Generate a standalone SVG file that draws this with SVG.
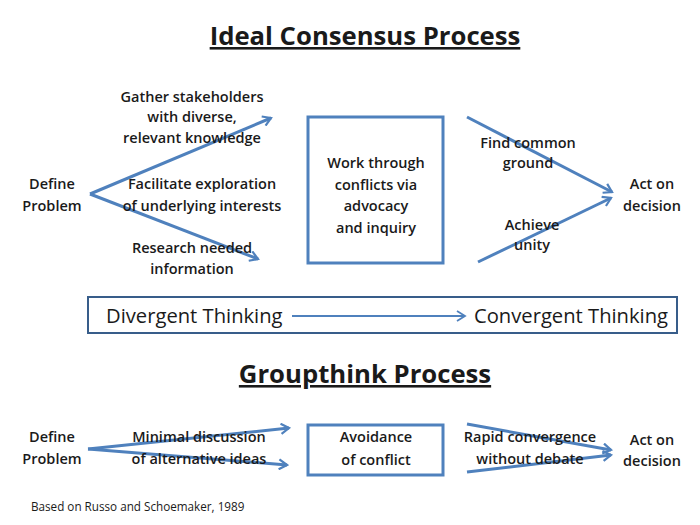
<svg xmlns="http://www.w3.org/2000/svg" width="700" height="525" viewBox="0 0 700 525">
<defs>
<marker id="ah" viewBox="0 0 12 12" refX="10" refY="6" markerWidth="4" markerHeight="4" orient="auto" markerUnits="strokeWidth">
<path d="M2,1 L10,6 L2,11" fill="none" stroke="#4f81bd" stroke-width="2.2" stroke-linejoin="miter"/>
</marker>
<marker id="ah2" viewBox="0 0 12 12" refX="10" refY="6" markerWidth="6" markerHeight="6" orient="auto" markerUnits="strokeWidth">
<path d="M2,1 L10,6 L2,11" fill="none" stroke="#4f81bd" stroke-width="1.8"/>
</marker>
</defs>
<style>
text{font-family:"Open Sans","Liberation Sans",sans-serif;fill:#1a1a1a}
.t{font-size:14.5px;font-weight:600;text-anchor:middle}
.h{font-size:25.7px;font-weight:700;text-anchor:middle;text-decoration:underline}
.n{font-size:20.2px;font-weight:400}
.c{font-size:11.7px;font-weight:400}
.box{fill:none;stroke:#4f81bd;stroke-width:3}
.ln{fill:none;stroke:#4f81bd;stroke-width:3;marker-end:url(#ah)}
</style>
<rect width="700" height="525" fill="#fff"/>

<g id="title1"><text class="h" x="365" y="45">Ideal Consensus Process</text></g>

<g id="connectors">
<line class="ln" x1="90" y1="194" x2="271" y2="118"/>
<line class="ln" x1="90" y1="194" x2="258" y2="259"/>
<line class="ln" x1="467" y1="117" x2="612" y2="192"/>
<line class="ln" x1="478" y1="262" x2="611" y2="198"/>
<line style="fill:none;stroke:#4f81bd;stroke-width:2;marker-end:url(#ah2)" x1="292" y1="316" x2="465" y2="316"/>
<line class="ln" x1="88" y1="449" x2="289" y2="428"/>
<line class="ln" x1="88" y1="449" x2="287" y2="465"/>
<line class="ln" x1="467" y1="424" x2="611" y2="450"/>
<line class="ln" x1="467" y1="472" x2="611" y2="455"/>
</g>

<g id="define1"><text class="t" x="52" y="189">Define</text><text class="t" x="52" y="211">Problem</text></g>
<g id="gather"><text class="t" x="192" y="102">Gather stakeholders</text><text class="t" x="192" y="122">with diverse,</text><text class="t" x="192" y="143">relevant knowledge</text></g>
<g id="facilitate"><text class="t" x="202" y="189">Facilitate exploration</text><text class="t" x="202" y="211">of underlying interests</text></g>
<g id="research"><text class="t" x="192" y="253">Research needed</text><text class="t" x="192" y="274">information</text></g>
<g id="work"><rect class="box" x="308" y="117" width="135" height="146"/>
<text class="t" x="376" y="168">Work through</text><text class="t" x="376" y="190">conflicts via</text><text class="t" x="376" y="211">advocacy</text><text class="t" x="376" y="233">and inquiry</text></g>
<g id="find"><text class="t" x="528" y="148">Find common</text><text class="t" x="528" y="168">ground</text></g>
<g id="achieve"><text class="t" x="532" y="230">Achieve</text><text class="t" x="532" y="250">unity</text></g>
<g id="act1"><text class="t" x="652" y="189">Act on</text><text class="t" x="652" y="211">decision</text></g>

<g id="thinking"><rect x="88" y="297" width="589" height="36" fill="none" stroke="#385d8a" stroke-width="2"/>
<text class="n" x="106" y="323">Divergent Thinking</text><text class="n" x="474" y="323">Convergent Thinking</text></g>

<g id="title2"><text class="h" x="365" y="383">Groupthink Process</text></g>

<g id="define2"><text class="t" x="52" y="442">Define</text><text class="t" x="52" y="464">Problem</text></g>
<g id="minimal"><text class="t" x="199" y="442">Minimal discussion</text><text class="t" x="199" y="464">of alternative ideas</text></g>
<g id="avoid"><rect class="box" x="308" y="425" width="135" height="50"/>
<text class="t" x="376" y="442">Avoidance</text><text class="t" x="376" y="465">of conflict</text></g>
<g id="rapid"><text class="t" x="530" y="442">Rapid convergence</text><text class="t" x="530" y="464">without debate</text></g>
<g id="act2"><text class="t" x="652" y="445">Act on</text><text class="t" x="652" y="466">decision</text></g>

<g id="credit"><text class="c" x="31" y="511">Based on Russo and Schoemaker, 1989</text></g>
</svg>
